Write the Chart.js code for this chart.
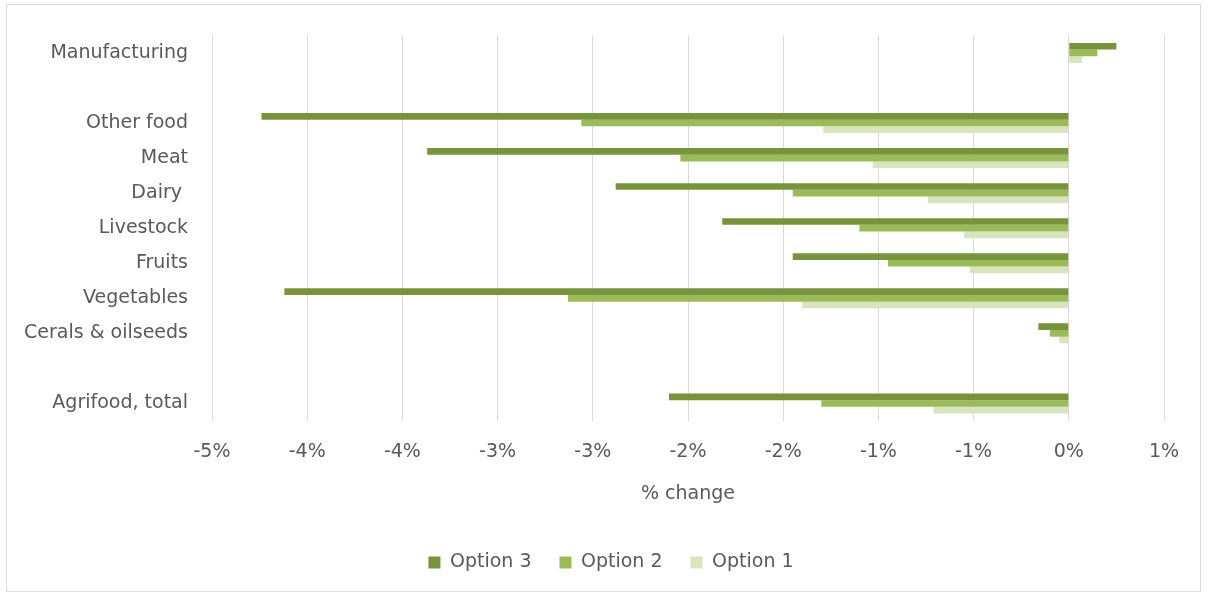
<!DOCTYPE html>
<html>
<head>
<meta charset="utf-8">
<script src="https://cdn.jsdelivr.net/npm/chart.js@4/dist/chart.umd.min.js"></script>
<style>
  html, body { margin: 0; padding: 0; background: #fff; }
  #wrap { position: relative; width: 1208px; height: 598px; }
</style>
</head>
<body>
<div id="wrap"><canvas id="chart" width="1208" height="598"></canvas></div>
<script>
// sector impacts, % change
const CATEGORIES = ['Manufacturing', '', 'Other food', 'Meat', 'Dairy ', 'Livestock', 'Fruits', 'Vegetables', 'Cerals & oilseeds', '', 'Agrifood, total'];
const OPTION_3 = [0.25, null, -4.24, -3.37, -2.38, -1.82, -1.45, -4.12, -0.16, null, -2.10];
const OPTION_2 = [0.15, null, -2.56, -2.04, -1.45, -1.10, -0.95, -2.63, -0.10, null, -1.30];
const OPTION_1 = [0.07, null, -1.29, -1.03, -0.74, -0.55, -0.52, -1.40, -0.05, null, -0.71];
const TICK_LABELS = ['-5%', '-4%', '-4%', '-3%', '-3%', '-2%', '-2%', '-1%', '-1%', '0%', '1%'];

const TEXT = '#595959';
const GRID = '#d9d9d9';
const FONT = 'DejaVu Sans';

// thin frame round the whole chart
const frame = {
    id: 'frame',
    beforeDraw(chart) {
        const c = chart.ctx;
        c.save();
        c.fillStyle = '#fff';
        c.fillRect(0, 0, chart.width, chart.height);
        c.strokeStyle = '#d9d9d9';
        c.lineWidth = 1;
        c.strokeRect(6.5, 4.5, 1194, 587);
        c.restore();
    }
};

// legend in the original sits centred under the whole frame, not the padded box
const legendShift = {
    id: 'legendShift',
    afterLayout(chart) {
        chart.legend.left += 29;
        chart.legend.right += 29;
    }
};

new Chart(document.getElementById('chart'), {
    type: 'bar',
    data: {
        labels: CATEGORIES,
        datasets: [
            { label: 'Option 3', data: OPTION_3, backgroundColor: '#77933c' },
            { label: 'Option 2', data: OPTION_2, backgroundColor: '#9bbb59' },
            { label: 'Option 1', data: OPTION_1, backgroundColor: '#d7e4bd' }
        ]
    },
    options: {
        indexAxis: 'y',
        responsive: false, animation: false,
        categoryPercentage: 0.57, barPercentage: 1,
        layout: { padding: { left: 0, right: 44, top: 32, bottom: 16 } },
        plugins: {
            tooltip: { enabled: false },
            legend: {
                position: 'bottom',
                labels: { color: TEXT, font: { family: FONT, size: 19 }, boxWidth: 12, boxHeight: 12, padding: 28 }
            }
        },
        scales: {
            x: {
                min: -4.5, max: 0.5,
                ticks: { stepSize: 0.5, color: TEXT, font: { family: FONT, size: 19 }, padding: 20, maxRotation: 0,
                    callback: (v, i) => TICK_LABELS[i] },
                grid: { color: GRID, drawTicks: false },
                border: { display: false },
                title: { display: true, text: '% change', color: TEXT, font: { family: FONT, size: 19 }, padding: { top: 0, bottom: 20 } },
                afterFit: s => { s.height = 104; }
            },
            y: {
                ticks: { color: TEXT, font: { family: FONT, size: 19 }, padding: 24, autoSkip: false },
                grid: { display: false, drawTicks: false },
                border: { display: false },
                afterFit: s => { s.width = 212; }
            }
        }
    },
    plugins: [frame, legendShift]
});
</script>
</body>
</html>
